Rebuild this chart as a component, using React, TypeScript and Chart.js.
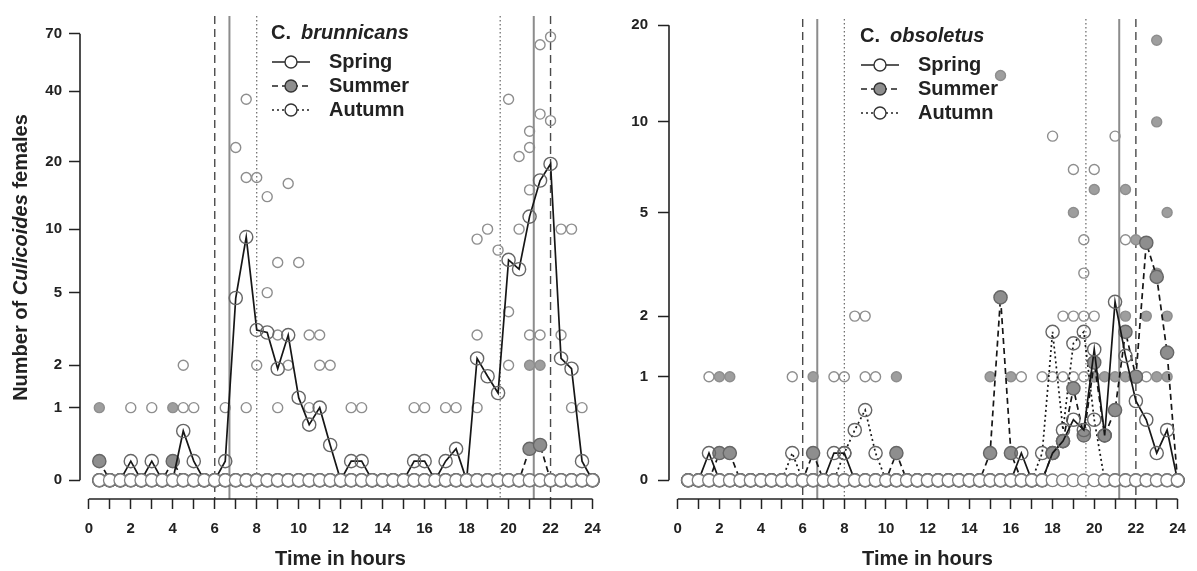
import React, { useEffect, useRef } from 'react';
import { Chart, registerables, LinearScale } from 'chart.js';

Chart.register(...registerables);

// Custom log(1 + y) scale, as used by the original R figure
class Log1pScale extends LinearScale {
  static id = 'log1p';
  static defaults = LinearScale.defaults;
  _t0 = 0;
  _tr = 1;
  configure() {
    super.configure();
    this._t0 = Math.log1p(this.min);
    this._tr = Math.log1p(this.max) - this._t0;
  }
  getPixelForValue(value: any) {
    if (value === null || value === undefined || isNaN(value)) return NaN;
    return this.getPixelForDecimal((Math.log1p(value) - this._t0) / this._tr);
  }
  getValueForPixel(pixel: number) {
    return Math.expm1(this._t0 + this.getDecimalForPixel(pixel) * this._tr);
  }
}
Chart.register(Log1pScale as any);

// ---------------- DATA ----------------
const times = [0.5, 1, 1.5, 2, 2.5, 3, 3.5, 4, 4.5, 5, 5.5, 6, 6.5, 7, 7.5, 8, 8.5, 9, 9.5, 10, 10.5, 11, 11.5, 12,
  12.5, 13, 13.5, 14, 14.5, 15, 15.5, 16, 16.5, 17, 17.5, 18, 18.5, 19, 19.5, 20, 20.5, 21, 21.5, 22, 22.5, 23, 23.5, 24];

const xTicks = [0, 1, 2, 3, 4, 5, 6, 7, 8, 9, 10, 11, 12, 13, 14, 15, 16, 17, 18, 19, 20, 21, 22, 23, 24];
const xTickLabels = ['0', '', '2', '', '4', '', '6', '', '8', '', '10', '', '12', '', '14', '', '16', '', '18', '', '20', '', '22', '', '24'];

const yTicksLeft = [0, 1, 2, 5, 10, 20, 40, 70];
const yTicksRight = [0, 1, 2, 5, 10, 20];

const seasons = ['Spring', 'Summer', 'Autumn'];
const sunrise = [6.7, 6.0, 8.0];
const sunset = [21.2, 22.0, 19.6];

// C. brunnicans – mean counts per half hour
const brunSpring = [0, 0, 0, 0.2, 0, 0.2, 0, 0, 0.6, 0.2, 0, 0,
  0.2, 4.7, 9.2, 3.2, 3.1, 1.9, 3.0, 1.2, 0.7, 1.0, 0.4, 0,
  0.2, 0.2, 0, 0, 0, 0, 0.2, 0.2, 0, 0.2, 0.35, 0,
  2.2, 1.7, 1.3, 7.2, 6.5, 11.4, 16.5, 19.5, 2.2, 1.9, 0.2, 0];
const brunSummer = [0.2, 0, 0, 0, 0, 0, 0, 0.2, 0, 0, 0, 0,
  0, 0, 0, 0, 0, 0, 0, 0, 0, 0, 0, 0,
  0, 0, 0, 0, 0, 0, 0, 0, 0, 0, 0, 0,
  0, 0, 0, 0, 0, 0.35, 0.4, 0, 0, 0, 0, 0];
const brunAutumn = [0, 0, 0, 0, 0, 0, 0, 0, 0, 0, 0, 0,
  0, 0, 0, 0, 0, 0, 0, 0, 0, 0, 0, 0,
  0, 0, 0, 0, 0, 0, 0, 0, 0, 0, 0, 0,
  0, 0, 0, 0, 0, 0, 0, 0, 0, 0, 0, 0];

// C. brunnicans – individual non-zero catches [time, count]
const brunSpringObs: [number, number][] = [[2, 1], [3, 1], [4.5, 1], [4.5, 2], [5, 1], [6.5, 1], [7, 23], [7.5, 37], [7.5, 17], [7.5, 1],
  [8, 17], [8, 2], [8.5, 14], [8.5, 5], [9, 7], [9, 3], [9, 1], [9.5, 16], [9.5, 2], [10, 7], [10.5, 3], [10.5, 1], [11, 3], [11, 2],
  [11.5, 2], [12.5, 1], [13, 1], [15.5, 1], [16, 1], [17, 1], [17.5, 1], [18.5, 9], [18.5, 3], [18.5, 1], [19, 10], [19.5, 8],
  [20, 37], [20, 4], [20, 2], [20.5, 21], [20.5, 10], [21, 27], [21, 23], [21, 15], [21, 3], [21.5, 63], [21.5, 32], [21.5, 3],
  [22, 68], [22, 30], [22.5, 10], [22.5, 3], [23, 10], [23, 1], [23.5, 1]];
const brunSummerObs: [number, number][] = [[0.5, 1], [4, 1], [21, 2], [21.5, 2]];
const brunAutumnObs: [number, number][] = [];

// C. obsoletus – mean counts per half hour
const obsoSpring = [0, 0, 0.2, 0, 0, 0, 0, 0, 0, 0, 0, 0,
  0, 0, 0.2, 0.2, 0, 0, 0, 0, 0, 0, 0, 0,
  0, 0, 0, 0, 0, 0, 0, 0, 0.2, 0, 0, 0.2,
  0.3, 0.5, 0.4, 1.4, 0.35, 2.3, 1.3, 0.7, 0.5, 0.2, 0.4, 0];
const obsoSummer = [0, 0, 0, 0.2, 0.2, 0, 0, 0, 0, 0, 0, 0,
  0.2, 0, 0, 0, 0, 0, 0, 0, 0.2, 0, 0, 0,
  0, 0, 0, 0, 0, 0.2, 2.4, 0.2, 0, 0, 0, 0.2,
  0.3, 0.85, 0.35, 1.2, 0.35, 0.6, 1.7, 1.0, 3.9, 2.9, 1.35, 0];
const obsoAutumn = [0, 0, 0, 0, 0, 0, 0, 0, 0, 0, 0.2, 0,
  0, 0, 0, 0.2, 0.4, 0.6, 0.2, 0, 0, 0, 0, 0,
  0, 0, 0, 0, 0, 0, 0, 0, 0, 0, 0.2, 1.7,
  0.4, 1.5, 1.7, 0.5, 0, 0, 0, 0, 0, 0, 0, 0];

// C. obsoletus – individual non-zero catches [time, count]
const obsoSpringObs: [number, number][] = [[1.5, 1], [7.5, 1], [8, 1], [16.5, 1], [21, 9], [21.5, 4], [22.5, 1]];
const obsoSummerObs: [number, number][] = [[2, 1], [2.5, 1], [6.5, 1], [10.5, 1], [15, 1], [15.5, 14], [16, 1], [19, 5], [20, 6], [20, 1],
  [20.5, 1], [21, 1], [21.5, 6], [21.5, 2], [21.5, 1], [22, 4], [22, 1], [22.5, 2], [23, 18], [23, 10], [23, 3], [23, 1],
  [23.5, 5], [23.5, 2], [23.5, 1]];
const obsoAutumnObs: [number, number][] = [[5.5, 1], [8.5, 2], [9, 2], [9, 1], [9.5, 1], [17.5, 1], [18, 9], [18, 1], [18.5, 2], [18.5, 1],
  [19, 7], [19, 2], [19, 1], [19.5, 4], [19.5, 3], [19.5, 2], [19.5, 1], [20, 7], [20, 2], [20, 1]];

// ---------------- STYLE ----------------
const FONT = '"Liberation Sans", Arial, Helvetica, sans-serif';
const INK = '#222';
const OBS_EDGE = '#8e8e8e';
const OBS_FILL_SUMMER = '#9e9e9e';
const MEAN_EDGE = '#666';
const MEAN_FILL_SUMMER = '#8e8e8e';
const CLEAR = 'rgba(255,255,255,0)';
const seasonDash = [[], [6, 4], [2, 3]];
const sunStyle = [
  { color: '#8c8c8c', width: 2, dash: [] as number[] },
  { color: '#4a4a4a', width: 1.4, dash: [8, 5] },
  { color: '#666', width: 1.2, dash: [1.5, 2.5] },
];

Chart.defaults.font.family = FONT;
Chart.defaults.color = INK;

type Panel = {
  species: string;
  means: number[][];
  obs: [number, number][][];
  yTicks: number[];
  yMin: number;
  yMax: number;
  yTitle: boolean;
  yWidth: number;
  yPad: number;
  padRight: number;
};

const leftPanel: Panel = {
  species: 'brunnicans',
  means: [brunSpring, brunSummer, brunAutumn],
  obs: [brunSpringObs, brunSummerObs, brunAutumnObs],
  yTicks: yTicksLeft, yMin: -0.164, yMax: 83.2, yTitle: true, yWidth: 80, yPad: 7, padRight: 6,
};
const rightPanel: Panel = {
  species: 'obsoletus',
  means: [obsoSpring, obsoSummer, obsoAutumn],
  obs: [obsoSpringObs, obsoSummerObs, obsoAutumnObs],
  yTicks: yTicksRight, yMin: -0.1175, yMax: 20.9, yTitle: false, yWidth: 79, yPad: 10, padRight: 2,
};

function decorPlugin(panel: Panel) {
  return {
    id: 'decor',
    beforeDatasetsDraw(chart: any) {
      const { ctx, chartArea, scales } = chart;
      const x = scales.x, y = scales.y;
      ctx.save();
      // sunrise / sunset lines
      for (let s = 0; s < seasons.length; s++) {
        const st = sunStyle[s];
        ctx.strokeStyle = st.color;
        ctx.lineWidth = st.width;
        ctx.setLineDash(st.dash);
        for (const t of [sunrise[s], sunset[s]]) {
          const px = x.getPixelForValue(t);
          ctx.beginPath();
          ctx.moveTo(px, chartArea.top);
          ctx.lineTo(px, chartArea.bottom);
          ctx.stroke();
        }
      }
      // axis lines
      ctx.setLineDash([]);
      ctx.strokeStyle = INK;
      ctx.lineWidth = 1.6;
      ctx.beginPath();
      ctx.moveTo(x.getPixelForValue(xTicks[0]), chartArea.bottom);
      ctx.lineTo(x.getPixelForValue(xTicks[xTicks.length - 1]), chartArea.bottom);
      ctx.stroke();
      ctx.beginPath();
      ctx.moveTo(chartArea.left, y.getPixelForValue(panel.yTicks[0]));
      ctx.lineTo(chartArea.left, y.getPixelForValue(panel.yTicks[panel.yTicks.length - 1]));
      ctx.stroke();
      ctx.restore();
    },
    afterDraw(chart: any) {
      const { ctx, chartArea } = chart;
      ctx.save();
      // legend
      const L = chartArea.left;
      const T = chartArea.top;
      ctx.fillStyle = INK;
      ctx.textBaseline = 'middle';
      ctx.textAlign = 'left';
      ctx.font = `bold 20px ${FONT}`;
      ctx.fillText('C.', L + 191, T + 17);
      ctx.font = `italic bold 20px ${FONT}`;
      ctx.fillText(panel.species, L + 221, T + 17);
      for (let s = 0; s < seasons.length; s++) {
        const yy = T + 46 + s * 24;
        ctx.strokeStyle = INK;
        ctx.lineWidth = 1.5;
        ctx.setLineDash(seasonDash[s]);
        ctx.beginPath();
        ctx.moveTo(L + 192, yy);
        ctx.lineTo(L + 230, yy);
        ctx.stroke();
        ctx.setLineDash([]);
        ctx.beginPath();
        ctx.arc(L + 211, yy, 6, 0, Math.PI * 2);
        ctx.fillStyle = s === 1 ? MEAN_FILL_SUMMER : '#fff';
        ctx.fill();
        ctx.strokeStyle = '#333';
        ctx.lineWidth = 1.4;
        ctx.stroke();
        ctx.fillStyle = INK;
        ctx.font = `bold 20px ${FONT}`;
        ctx.fillText(seasons[s], L + 249, yy);
      }
      // y title with italic genus name
      if (panel.yTitle) {
        const parts: [string, string][] = [['Number of ', 'bold'], ['Culicoides', 'italic bold'], [' females', 'bold']];
        ctx.translate(21, (chartArea.top + chartArea.bottom) / 2);
        ctx.rotate(-Math.PI / 2);
        let total = 0;
        const widths = parts.map(([txt, st]) => {
          ctx.font = `${st} 20px ${FONT}`;
          const w = ctx.measureText(txt).width;
          total += w;
          return w;
        });
        let cx = -total / 2;
        parts.forEach(([txt, st], i) => {
          ctx.font = `${st} 20px ${FONT}`;
          ctx.fillText(txt, cx, 0);
          cx += widths[i];
        });
      }
      ctx.restore();
    },
  };
}

function makeChart(canvas: HTMLCanvasElement, panel: Panel) {
  const series = (vals: number[]) => times.map((t, i) => ({ x: t, y: vals[i] }));
  const pairs = (arr: [number, number][]) => arr.map(([t, v]) => ({ x: t, y: v }));
  const datasets: any[] = [];
  // individual catches
  for (let s = 0; s < 3; s++) {
    datasets.push({
      type: 'scatter',
      data: pairs(panel.obs[s]),
      pointRadius: 5,
      pointBorderWidth: 1.4,
      pointBorderColor: OBS_EDGE,
      pointBackgroundColor: s === 1 ? OBS_FILL_SUMMER : CLEAR,
      order: 20 + s,
      clip: false,
    });
  }
  // season means (autumn below summer below spring)
  for (let s = 2; s >= 0; s--) {
    datasets.push({
      type: 'line',
      data: series(panel.means[s]),
      borderColor: '#161616',
      borderWidth: 1.7,
      borderDash: seasonDash[s],
      tension: 0,
      pointRadius: 6.6,
      pointBorderWidth: 1.4,
      pointBorderColor: MEAN_EDGE,
      pointBackgroundColor: s === 1 ? MEAN_FILL_SUMMER : CLEAR,
      order: 10 + s,
      clip: false,
    });
  }
  // zero catches row
  datasets.push({
    type: 'scatter',
    data: times.map((t) => ({ x: t, y: 0 })),
    pointRadius: 6.3,
    pointBorderWidth: 1.3,
    pointBorderColor: '#7e7e7e',
    pointBackgroundColor: '#fff',
    order: 1,
    clip: false,
  });

  const tickFont = { size: 15, weight: 'bold' as const };
  return new Chart(canvas, {
    type: 'line',
    data: { datasets },
    plugins: [decorPlugin(panel)],
    options: {
      responsive: false,
      animation: false,
      events: [],
      layout: { padding: { left: 0, right: panel.padRight, top: 11, bottom: 0 } },
      plugins: { legend: { display: false }, tooltip: { enabled: false } },
      scales: {
        x: {
          type: 'linear',
          min: -0.42,
          max: 24.4,
          afterFit: (s: any) => { s.height = 72; },
          afterBuildTicks: (s: any) => { s.ticks = xTicks.map((v) => ({ value: v })); },
          ticks: {
            autoSkip: false,
            maxRotation: 0,
            padding: 11,
            font: tickFont,
            color: INK,
            callback: (v: any) => xTickLabels[xTicks.indexOf(Number(v))] ?? '',
          },
          grid: { display: true, drawOnChartArea: false, drawTicks: true, tickLength: 10, tickWidth: 1.5, tickColor: INK },
          border: { display: false },
          title: { display: true, text: 'Time in hours', font: { size: 20, weight: 'bold' }, color: INK, padding: 0 },
        },
        y: {
          type: 'log1p' as any,
          min: panel.yMin,
          max: panel.yMax,
          bounds: 'data',
          afterFit: (s: any) => { s.width = panel.yWidth; },
          afterBuildTicks: (s: any) => { s.ticks = panel.yTicks.map((v) => ({ value: v })); },
          ticks: {
            autoSkip: false,
            padding: panel.yPad,
            font: tickFont,
            color: INK,
            callback: (v: any) => String(v),
          },
          grid: { display: true, drawOnChartArea: false, drawTicks: true, tickLength: 11, tickWidth: 1.5, tickColor: INK },
          border: { display: false },
        },
      } as any,
    },
  } as any);
}

export default function App() {
  const leftRef = useRef<HTMLCanvasElement>(null);
  const rightRef = useRef<HTMLCanvasElement>(null);
  useEffect(() => {
    const c1 = makeChart(leftRef.current!, leftPanel);
    const c2 = makeChart(rightRef.current!, rightPanel);
    return () => { c1.destroy(); c2.destroy(); };
  }, []);
  return (
    <div style={{ position: 'absolute', left: 0, top: 0, width: 1197, height: 571, background: '#fff', overflow: 'hidden' }}>
      <canvas ref={leftRef} width={612} height={571} style={{ position: 'absolute', left: 0, top: 0, width: 612, height: 571 }} />
      <canvas ref={rightRef} width={607} height={571} style={{ position: 'absolute', left: 590, top: 0, width: 607, height: 571 }} />
    </div>
  );
}
